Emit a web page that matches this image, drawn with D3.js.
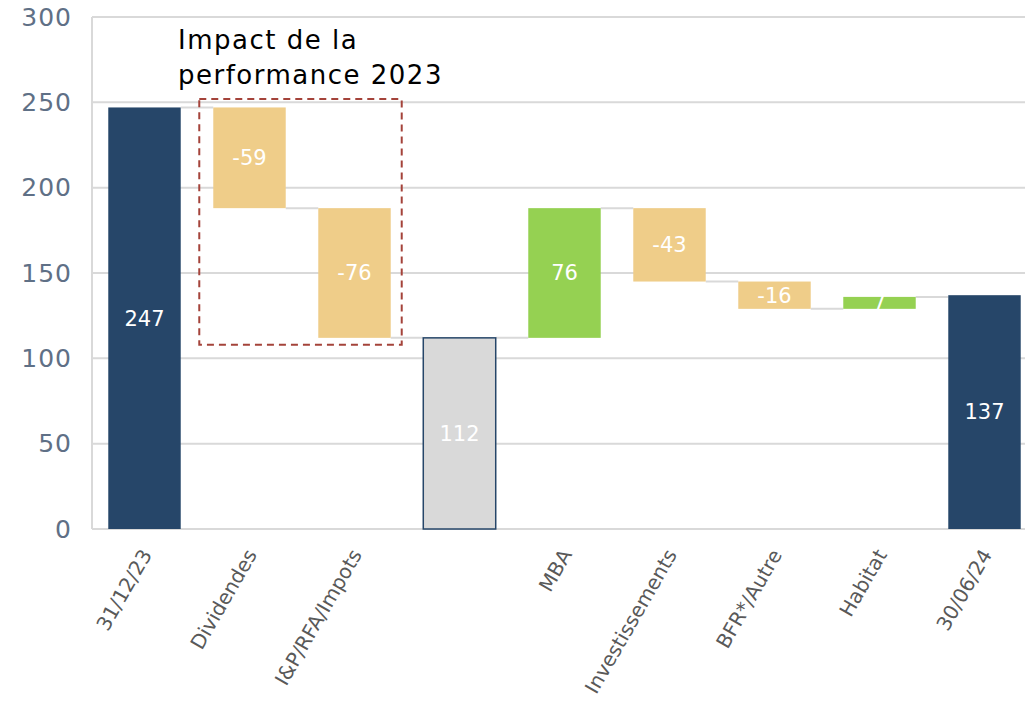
<!DOCTYPE html>
<html>
<head>
  <meta charset="utf-8">
  <title>Waterfall</title>
  <script src="https://d3js.org/d3.v7.min.js"></script>
  <style>
    body { margin: 0; background: #fff; }
    text { font-family: "DejaVu Sans", "Open Sans", sans-serif; }
  </style>
</head>
<body>
<div id="chart"></div>
<script>

// Data
const categories = ["31/12/23", "Dividendes", "I&P/RFA/Impots", "", "MBA", "Investissements", "BFR*/Autre", "Habitat", "30/06/24"];
const values = [247, -59, -76, 112, 76, -43, -16, 7, 137];
const kinds = ["total", "delta", "delta", "subtotal", "delta", "delta", "delta", "delta", "total"];
const yTicks = [0, 50, 100, 150, 200, 250, 300];
const boxLevels = [252, 108]; // dashed annotation box, in data units
const annotation = ["Impact de la", "performance 2023"];

const W = 1025, H = 720;
const margin = {top: 17, left: 92, bottom: 191};

const svg = d3.select("#chart").append("svg")
  .attr("width", W).attr("height", H);

const x = d3.scaleBand()
  .domain(d3.range(categories.length))
  .range([margin.left, margin.left + 9 * 105])
  .paddingInner(0.31)
  .paddingOuter(0.155);

const y = d3.scaleLinear()
  .domain([0, 300])
  .range([H - margin.bottom, margin.top]);

// compute waterfall segments
let running = 0;
const bars = values.map((v, i) => {
  let start, end;
  if (kinds[i] === "delta") { start = running; end = running + v; }
  else { start = 0; end = v; }
  running = end;
  return {i, v, kind: kinds[i], start, end};
});

// grid
svg.append("g")
  .selectAll("line")
  .data(yTicks)
  .join("line")
    .attr("x1", margin.left).attr("x2", W)
    .attr("y1", d => y(d)).attr("y2", d => y(d))
    .attr("stroke", "#d9d9d9")
    .attr("stroke-width", 2);

// left axis line
svg.append("line")
  .attr("x1", margin.left).attr("x2", margin.left)
  .attr("y1", y(300)).attr("y2", y(0))
  .attr("stroke", "#d9d9d9").attr("stroke-width", 2);

// y tick labels
const yAxis = svg.append("g")
  .attr("transform", `translate(${margin.left},0)`)
  .call(d3.axisLeft(y).tickValues(yTicks).tickSize(0).tickPadding(20));
yAxis.select(".domain").remove();
yAxis.selectAll("text")
  .attr("fill", "#5f7086")
  .style("font-size", "25px")
  .style("letter-spacing", "1px");

// connectors
svg.append("g")
  .selectAll("line")
  .data(bars.slice(0, -1))
  .join("line")
    .attr("x1", d => x(d.i) + x.bandwidth())
    .attr("x2", d => x(d.i + 1))
    .attr("y1", d => y(d.end)).attr("y2", d => y(d.end))
    .attr("stroke", "#d9d9d9")
    .attr("stroke-width", 2);

const fill = d => d.kind === "total" ? "#264669"
  : d.kind === "subtotal" ? "#d9d9d9"
  : d.v >= 0 ? "#95d152" : "#efcd89";

// bars
svg.append("g")
  .selectAll("rect")
  .data(bars)
  .join("rect")
    .attr("x", d => x(d.i))
    .attr("width", x.bandwidth())
    .attr("y", d => y(Math.max(d.start, d.end)))
    .attr("height", d => Math.abs(y(d.start) - y(d.end)))
    .attr("fill", fill)
    .attr("stroke", d => d.kind === "subtotal" ? "#264669" : "none")
    .attr("stroke-width", 1.5);

// value labels
svg.append("g")
  .selectAll("text")
  .data(bars)
  .join("text")
    .attr("x", d => x(d.i) + x.bandwidth() / 2)
    .attr("y", d => y((d.start + d.end) / 2))
    .attr("dy", "0.35em")
    .attr("text-anchor", "middle")
    .attr("fill", "#fff")
    .style("font-size", "21px")
    .text(d => d.v);

// x labels
svg.append("g")
  .selectAll("text")
  .data(categories.map((c, i) => ({c, i})))
  .join("text")
    .attr("transform", d => `translate(${x(d.i) + x.bandwidth() / 2 + 2},${y(0) + 22}) rotate(-60)`)
    .attr("text-anchor", "end")
    .attr("dy", "0.35em")
    .attr("fill", "#595959")
    .style("font-size", "20px")
    .text(d => d.c);

// dashed annotation box
svg.append("rect")
  .attr("x", x(1) - 14)
  .attr("width", x(2) + x.bandwidth() + 11 - (x(1) - 14))
  .attr("y", y(boxLevels[0]))
  .attr("height", y(boxLevels[1]) - y(boxLevels[0]))
  .attr("fill", "none")
  .attr("stroke", "#a4433a")
  .attr("stroke-width", 2)
  .attr("stroke-dasharray", "7,5");

svg.append("g")
  .selectAll("text")
  .data(annotation)
  .join("text")
    .attr("x", 178)
    .attr("y", (d, i) => 49 + i * 35)
    .attr("fill", "#000")
    .style("font-size", "26px")
    .style("letter-spacing", "1.5px")
    .text(d => d);

</script>
</body>
</html>
